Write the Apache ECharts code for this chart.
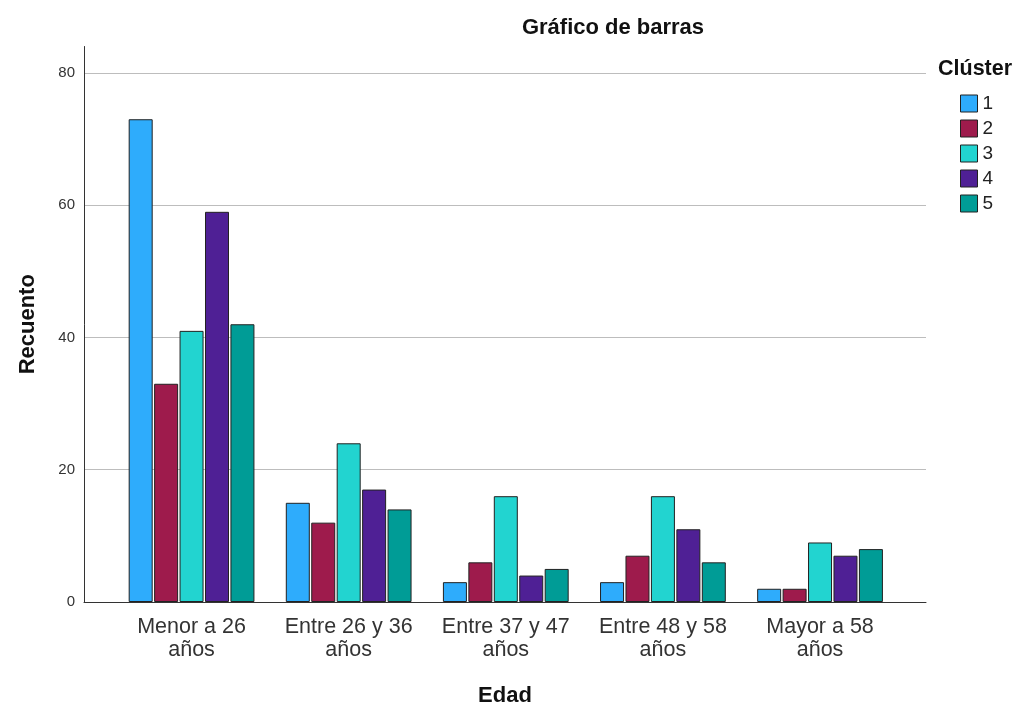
<!DOCTYPE html>
<html lang="es">
<head>
    <meta charset="UTF-8">
    <title>Gráfico de barras</title>
    <script src="https://cdn.jsdelivr.net/npm/echarts@6/dist/echarts.min.js"></script>
    <style>
        body { margin: 0; background: #fff; }
        #main { width: 1018px; height: 709px; }
    </style>
</head>
<body>
<div id="main"></div>
<script>
    // datos del gráfico
    var categorias = ['Menor a 26\naños', 'Entre 26 y 36\naños', 'Entre 37 y 47\naños', 'Entre 48 y 58\naños', 'Mayor a 58\naños'];
    var clusters = ['1', '2', '3', '4', '5'];
    var colores = ['#2eacfc', '#9e1b4c', '#22d4d0', '#4f2095', '#009c96'];
    var cluster1 = [73, 15, 3, 3, 2];
    var cluster2 = [33, 12, 6, 7, 2];
    var cluster3 = [41, 24, 16, 16, 9];
    var cluster4 = [59, 17, 4, 11, 7];
    var cluster5 = [42, 14, 5, 6, 8];
    var yTicks = [0, 20, 40, 60, 80];

    var valores = [cluster1, cluster2, cluster3, cluster4, cluster5];
    var fuente = '"Liberation Sans", Arial, sans-serif';

    var series = clusters.map(function (c, i) {
        return {
            name: c,
            type: 'bar',
            xAxisIndex: 1,
            yAxisIndex: 1,
            data: valores[i],
            barWidth: 24,
            barGap: '6%',
            itemStyle: { color: colores[i], borderColor: '#222', borderWidth: 1 }
        };
    });

    var myChart = echarts.init(document.getElementById('main'));
    var option = {
        animation: false,
        textStyle: { fontFamily: fuente },
        title: [
            { text: 'Gráfico de barras', left: 613, top: 17, textAlign: 'center', padding: 0,
              textStyle: { fontSize: 22, fontWeight: 'bold', color: '#111', fontFamily: fuente } },
            { text: 'Clúster', left: 938, top: 58, padding: 0,
              textStyle: { fontSize: 21.5, fontWeight: 'bold', color: '#111', fontFamily: fuente } }
        ],
        legend: {
            data: clusters,
            orient: 'vertical',
            left: 960,
            top: 94,
            padding: 0,
            itemWidth: 17,
            itemHeight: 17,
            itemGap: 6,
            icon: 'rect',
            itemStyle: { borderColor: '#222', borderWidth: 1 },
            textStyle: { fontSize: 19, color: '#222' }
        },
        grid: [
            { left: 84, right: 92, top: 46.5, bottom: 107, outerBoundsMode: 'none', containLabel: false },
            { left: 113, right: 119.4, top: 46.5, bottom: 107, outerBoundsMode: 'none', containLabel: false }
        ],
        xAxis: [
            {
                gridIndex: 0, type: 'value', min: 0, max: 1,
                name: 'Edad', nameLocation: 'middle', nameGap: 83,
                nameTextStyle: { fontSize: 22, fontWeight: 'bold', color: '#111' },
                axisLine: { show: true, lineStyle: { color: '#333', width: 1 } },
                axisTick: { show: false }, axisLabel: { show: false }, splitLine: { show: false }
            },
            {
                gridIndex: 1, type: 'category', data: categorias,
                axisLine: { show: false }, axisTick: { show: false },
                axisLabel: { fontSize: 21.5, color: '#333', margin: 14, lineHeight: 23, interval: 0 }
            }
        ],
        yAxis: [
            {
                gridIndex: 0, type: 'value', min: 0, max: 84, interval: 20,
                name: 'Recuento', nameLocation: 'middle', nameGap: 45,
                nameTextStyle: { fontSize: 22, fontWeight: 'bold', color: '#111' },
                axisLine: { show: true, lineStyle: { color: '#333', width: 1 } },
                axisTick: { show: false },
                axisLabel: {
                    fontSize: 15, color: '#333', margin: 9,
                    formatter: function (v) { return yTicks.indexOf(v) >= 0 ? String(v) : ''; }
                },
                splitLine: { show: true, lineStyle: { color: ['#bdbdbd', '#bdbdbd', '#bdbdbd', '#bdbdbd', '#bdbdbd', 'rgba(0,0,0,0)'], width: 1 } }
            },
            { gridIndex: 1, type: 'value', min: 0, max: 84, show: false }
        ],
        series: series
    };
    myChart.setOption(option);
</script>
</body>
</html>
